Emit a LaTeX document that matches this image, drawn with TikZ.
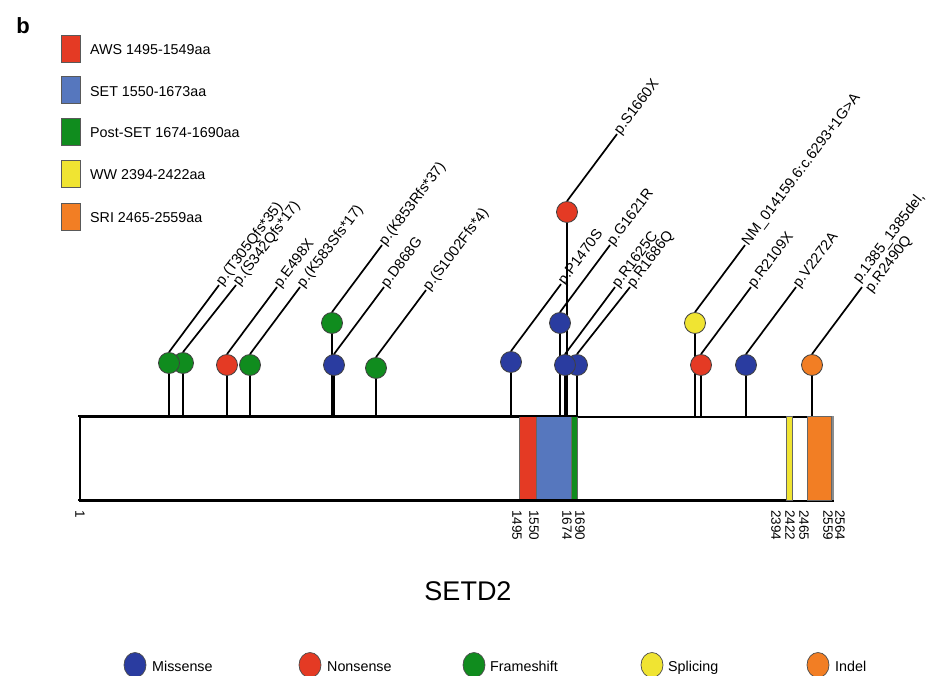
\documentclass[tikz,border=0pt]{standalone}
\usepackage{fontspec}
\setmainfont{Liberation Sans}
\usetikzlibrary{calc,shapes.geometric}
\definecolor{cred}{RGB}{228,58,36}
\definecolor{cblue}{RGB}{86,119,190}
\definecolor{cgreen}{RGB}{16,140,30}
\definecolor{cyellow}{RGB}{240,228,50}
\definecolor{corange}{RGB}{242,126,36}
\definecolor{mblue}{RGB}{42,60,160}
\pgfdeclarelayer{bg}
\pgfsetlayers{bg,main}
\begin{document}
\begin{tikzpicture}[x=1pt,y=-1pt,
  lolli/.style={circle, draw=black!75, line width=0.8pt, minimum size=21pt, inner sep=0pt},
  stemline/.style={line width=1.7pt, black},
  lbl/.style={anchor=west, rotate=53, inner sep=1pt, font=\fontsize{14.6}{15.5}\selectfont, align=left},
  ticklbl/.style={anchor=west, rotate=-90, inner sep=0pt, font=\fontsize{13.5}{15}\selectfont},
  legsq/.style={rectangle, draw=black!65, line width=0.7pt, minimum width=19pt, minimum height=27pt, inner sep=0pt},
  legtxt/.style={anchor=base west, inner sep=0pt, font=\fontsize{14.3}{16}\selectfont},
  legcirc/.style={ellipse, draw=black!70, line width=0.7pt, minimum width=22pt, minimum height=25pt, inner sep=0pt},
  dom/.style={draw=black!60, line width=0.5pt}
]
\useasboundingbox (0,0) rectangle (930,676);

% panel letter
\node[font=\fontsize{22}{24}\selectfont\bfseries] (panel) at (23,26) {b};

% domain legend
\node[legsq, fill=cred]    (s1) at (70.5,48.5) {};
\node[legsq, fill=cblue]   (s2) at (70.5,90) {};
\node[legsq, fill=cgreen]  (s3) at (70.5,131.5) {};
\node[legsq, fill=cyellow] (s4) at (70.5,173.5) {};
\node[legsq, fill=corange] (s5) at (70.5,216.5) {};
\node[legtxt] (s1t) at (90,55) {AWS 1495-1549aa};
\node[legtxt] (s2t) at (90,96.5) {SET 1550-1673aa};
\node[legtxt] (s3t) at (90,138) {Post-SET 1674-1690aa};
\node[legtxt] (s4t) at (90,180) {WW 2394-2422aa};
\node[legtxt] (s5t) at (90,223) {SRI 2465-2559aa};

% protein bar
\coordinate (base) at (0,416);
\begin{pgfonlayer}{bg}
\node[draw=black, line width=1.8pt, fill=white, minimum width=753pt, minimum height=84pt, inner sep=0pt, anchor=north west] (bar) at (79,416) {};
\fill[dom, fill=cred]    (519,416) rectangle (536,500);
\fill[dom, fill=cblue]   (536,416) rectangle (571,500);
\fill[dom, fill=cgreen]  (571,416) rectangle (577,500);
\fill[dom, fill=cyellow] (786,416) rectangle (792,500);
\fill[dom, fill=corange] (807,416) rectangle (831,500);
\fill[black!45] (831,416) rectangle (834,500);
\draw[dom] (519,416) rectangle (536,500);
\draw[dom] (536,416) rectangle (571,500);
\draw[dom] (571,416) rectangle (577,500);
\draw[dom] (786,416) rectangle (792,500);
\draw[dom] (807,416) rectangle (831,500);
\draw[line width=2.6pt] (78,416) -- (578,416);
\draw[line width=1.8pt] (78,500) -- (786,500);
\end{pgfonlayer}

% tick labels
\node[ticklbl] (k1) at (80,510) {1};
\node[ticklbl] (k2) at (517,510) {1495};
\node[ticklbl] (k3) at (534,510) {1550};
\node[ticklbl] (k4) at (567,510) {1674};
\node[ticklbl] (k5) at (580,510) {1690};
\node[ticklbl] (k6) at (776,510) {2394};
\node[ticklbl] (k7) at (790,510) {2422};
\node[ticklbl] (k8) at (804,510) {2465};
\node[ticklbl] (k9) at (828,510) {2559};
\node[ticklbl] (k10) at (840,510) {2564};

% lollipop heads (right-hand ones of overlapping pairs first)
\node[lolli, fill=cgreen]  (m2) at (183,363) {};
\node[lolli, fill=cgreen]  (m1) at (169,363) {};
\node[lolli, fill=cred]    (m3) at (227,365) {};
\node[lolli, fill=cgreen]  (m4) at (250,365) {};
\node[lolli, fill=cgreen]  (m5) at (332,323) {};
\node[lolli, fill=mblue]   (m6) at (334,365) {};
\node[lolli, fill=cgreen]  (m7) at (376,368) {};
\node[lolli, fill=mblue]   (m8) at (511,362) {};
\node[lolli, fill=cred]    (m9) at (567,212) {};
\node[lolli, fill=mblue]   (m10) at (560,323) {};
\node[lolli, fill=mblue]   (m12) at (577,365) {};
\node[lolli, fill=mblue]   (m11) at (565,365) {};
\node[lolli, fill=cyellow] (m13) at (695,323) {};
\node[lolli, fill=cred]    (m14) at (701,365) {};
\node[lolli, fill=mblue]   (m15) at (746,365) {};
\node[lolli, fill=corange] (m16) at (812,365) {};

% label anchor points
\foreach \i in {1,3,4,5,6,7,8,9,10,11,13,14,15,16} {\coordinate (e\i) at ($(m\i.north)+(50,-67)$);}
\coordinate (e2) at ($(m2.north)+(53,-67)$);
\coordinate (e12) at ($(m12.north)+(53,-67)$);

% stems and label lines
\begin{pgfonlayer}{bg}
\foreach \i in {1,...,16} {
  \draw[stemline] (m\i.center) -- (m\i.center |- base);
  \draw[stemline] (m\i.north) -- (e\i);
}
\end{pgfonlayer}

% mutation labels
\node[lbl] (t1) at (e1) {p.(T305Qfs*35)};
\node[lbl] (t2) at (e2) {p.(S342Qfs*17)};
\node[lbl] (t3) at (e3) {p.E498X};
\node[lbl] (t4) at (e4) {p.(K583Sfs*17)};
\node[lbl] (t5) at (e5) {p.(K853Rfs*37)};
\node[lbl] (t6) at (e6) {p.D868G};
\node[lbl] (t7) at (e7) {p.(S1002Ffs*4)};
\node[lbl] (t8) at (e8) {p.P1470S};
\node[lbl] (t9) at (e9) {p.S1660X};
\node[lbl] (t10) at (e10) {p.G1621R};
\node[lbl] (t11) at (e11) {p.R1625C};
\node[lbl] (t12) at (e12) {p.R1686Q};
\node[lbl] (t13) at (e13) {NM\_014159.6:c.6293+1G>A};
\node[lbl] (t14) at (e14) {p.R2109X};
\node[lbl] (t15) at (e15) {p.V2272A};
\node[lbl] (t16) at (e16) {p.1385\_1385del,\\p.R2490Q};

% gene name
\node[font=\fontsize{27}{30}\selectfont] (gene) at (468,591) {SETD2};

% mutation type legend
\node[legcirc, fill=mblue]   (c1) at (135,665) {};
\node[legcirc, fill=cred]    (c2) at (310,665) {};
\node[legcirc, fill=cgreen]  (c3) at (474,665) {};
\node[legcirc, fill=cyellow] (c4) at (652,665) {};
\node[legcirc, fill=corange] (c5) at (818,665) {};
\node[legtxt] (c1t) at (152,671) {Missense};
\node[legtxt] (c2t) at (327,671) {Nonsense};
\node[legtxt] (c3t) at (490,671) {Frameshift};
\node[legtxt] (c4t) at (668,671) {Splicing};
\node[legtxt] (c5t) at (835,671) {Indel};
\end{tikzpicture}
\end{document}
